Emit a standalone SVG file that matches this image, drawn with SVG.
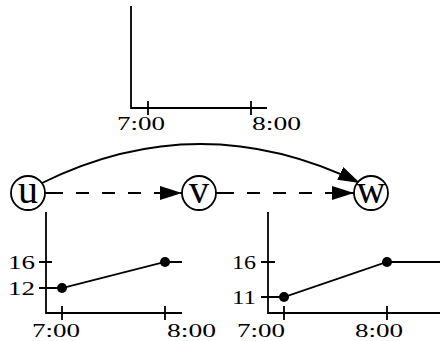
<svg xmlns="http://www.w3.org/2000/svg" width="440" height="341" viewBox="0 0 440 341">
<defs>
<style>
.ax{stroke:#000;stroke-width:1.8;fill:none}
.t{font-family:"Liberation Serif",serif;font-size:19px;fill:#000}
.n{font-family:"Liberation Serif",serif;font-size:40px;fill:#000;text-anchor:middle}
.node{fill:#fff;stroke:#000;stroke-width:1.8}
.edge{stroke:#000;stroke-width:1.8;fill:none}
.dash{stroke-dasharray:18 13 13 13 13 13 13 13 13 13 13 13}
</style>
<marker id="ah" markerWidth="22" markerHeight="14" refX="22" refY="7" orient="auto" markerUnits="userSpaceOnUse">
<path d="M0,0 L22,7 L0,14 Z" fill="#000"/>
</marker>
</defs>
<g id="chart-top">
<path class="ax" d="M131,6 V108 H267 M148,101 V115 M251,101 V115"/>
<text class="t" x="117" y="130" textLength="48" lengthAdjust="spacingAndGlyphs">7:00</text>
<text class="t" x="252" y="130" textLength="49" lengthAdjust="spacingAndGlyphs">8:00</text>
</g>
<g id="chart-left">
<path class="ax" d="M46,212 V313 H182 M62,306 V320 M165,306 V320 M39,262 H52 M39,288 H62 L165,262 H182"/>
<circle cx="62" cy="288" r="5"/>
<circle cx="165" cy="262" r="5"/>
<text class="t" x="8" y="269" textLength="27" lengthAdjust="spacingAndGlyphs">16</text>
<text class="t" x="8" y="295" textLength="27" lengthAdjust="spacingAndGlyphs">12</text>
<text class="t" x="32" y="337" textLength="48" lengthAdjust="spacingAndGlyphs">7:00</text>
<text class="t" x="167" y="337" textLength="49" lengthAdjust="spacingAndGlyphs">8:00</text>
</g>
<g id="chart-right">
<path class="ax" d="M268,212 V313 H440 M284,306 V320 M387,306 V320 M261,262 H275 M261,297 H284 L387,262 H440"/>
<circle cx="284" cy="297" r="5"/>
<circle cx="387" cy="262" r="5"/>
<text class="t" x="232" y="269" textLength="24" lengthAdjust="spacingAndGlyphs">16</text>
<text class="t" x="232" y="304" textLength="24" lengthAdjust="spacingAndGlyphs">11</text>
<text class="t" x="237" y="337" textLength="48" lengthAdjust="spacingAndGlyphs">7:00</text>
<text class="t" x="355" y="337" textLength="48" lengthAdjust="spacingAndGlyphs">8:00</text>
</g>
<g id="connectors">
<path class="edge" d="M42,183 Q200,105 360,183" marker-end="url(#ah)"/>
<path class="edge dash" d="M45,193 H182" marker-end="url(#ah)"/>
<path class="edge dash" d="M216,193 H354" marker-end="url(#ah)"/>
</g>
<g id="node-u">
<circle class="node" cx="28" cy="193" r="17"/>
<text class="n" x="28" y="203">u</text>
</g>
<g id="node-v">
<circle class="node" cx="199" cy="193" r="17"/>
<text class="n" x="199" y="203">v</text>
</g>
<g id="node-w">
<circle class="node" cx="371" cy="193" r="17"/>
<text class="n" x="371" y="203">w</text>
</g>
</svg>
